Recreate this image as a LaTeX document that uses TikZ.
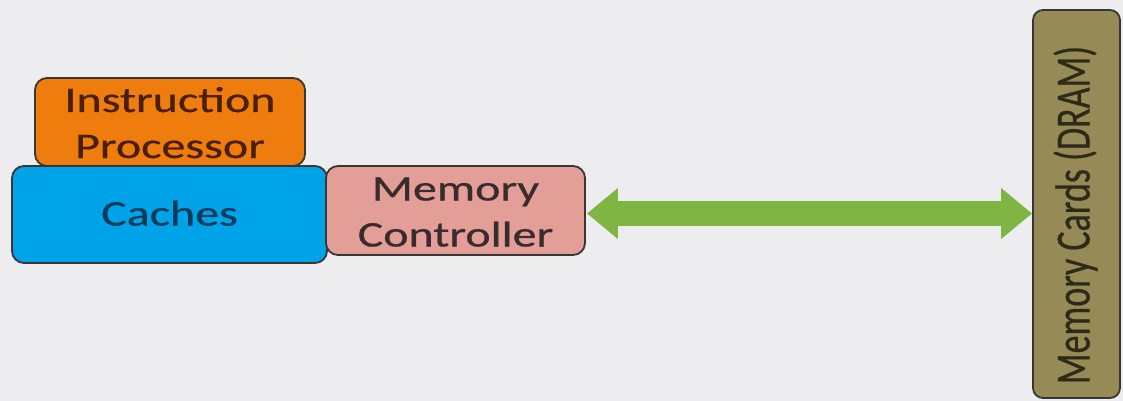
\documentclass[tikz,border=0pt]{standalone}
\usepackage{fontspec}
\setmainfont{Carlito}
\usetikzlibrary{arrows.meta}
\definecolor{bg}{HTML}{EDEDF0}
\definecolor{orangebox}{HTML}{EE7D0E}
\definecolor{bluebox}{HTML}{00A2E8}
\definecolor{pinkbox}{HTML}{E39E98}
\definecolor{olivebox}{HTML}{968A56}
\definecolor{greenarrow}{HTML}{7EB543}
\definecolor{edge}{HTML}{3A3636}
\definecolor{txtorange}{HTML}{4A1F08}
\definecolor{txtblue}{HTML}{0A3A5C}
\definecolor{txtpink}{HTML}{3A2C2C}
\definecolor{txtolive}{HTML}{2E2A18}
\tikzset{
  blockbox/.style={draw=edge, line width=1.8pt, rounded corners=12pt, inner sep=0pt},
  blocktext/.style={inner sep=0pt, align=center, font=\fontsize{36}{45}\selectfont\addfontfeature{FakeBold=0.6}},
}
\newcommand{\wide}[1]{\scalebox{1.333}[1]{\begin{tabular}{@{}c@{}}#1\end{tabular}}}
\begin{document}
\begin{tikzpicture}[x=1pt,y=-1pt]
\fill[bg] (0,0) rectangle (1123,401);
\useasboundingbox (0,0) rectangle (1123,401);
\node[blockbox, fill=orangebox, minimum width=270pt, minimum height=88pt] (ip) at (170,122) {};
\node[blocktext, text=txtorange, yshift=-4pt] (ipt) at (ip.center) {\wide{Instruction\\[1pt] Processor}};
\node[blockbox, fill=bluebox, minimum width=315pt, minimum height=97pt] (cache) at (169.5,214.5) {};
\node[blocktext, text=txtblue, yshift=-2pt] (cachet) at (cache.center) {\wide{Caches}};
\node[blockbox, fill=pinkbox, minimum width=259pt, minimum height=89pt] (mc) at (455.5,210.5) {};
\node[blocktext, text=txtpink, yshift=-4pt] (mct) at (mc.center) {\wide{Memory\\[1pt] Controller}};
\node[blockbox, fill=olivebox, minimum width=87pt, minimum height=388pt, rounded corners=10pt] (cards) at (1076.5,204) {};
\node[blocktext, text=txtolive, yshift=-11pt, xshift=-1pt] (cardst) at (cards.center)
  {\rotatebox{90}{\scalebox{1.0}[1.37]{Memory Cards (DRAM)}}};
\coordinate (aL) at ([xshift=1pt,yshift=-3pt]mc.east);
\coordinate (aR) at (cards.west |- aL);
\draw[greenarrow, line width=25pt,
  {Triangle[width=49pt,length=31pt]}-{Triangle[width=49pt,length=31pt]}] (aL) -- (aR);
\end{tikzpicture}
\end{document}
